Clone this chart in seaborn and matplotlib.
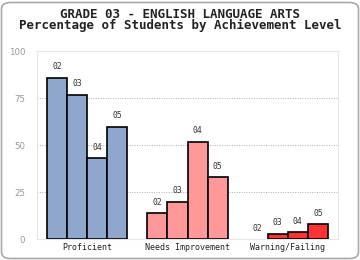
import matplotlib
matplotlib.use("Agg")
import matplotlib.pyplot as plt
import seaborn as sns
import pandas as pd
from matplotlib.patches import FancyBboxPatch

title_line1 = "GRADE 03 - ENGLISH LANGUAGE ARTS"
title_line2 = "Percentage of Students by Achievement Level"
categories = ["Proficient", "Needs Improvement", "Warning/Failing"]
years = ["02", "03", "04", "05"]
proficient = [86, 77, 43, 60]
needs_improvement = [14, 20, 52, 33]
warning_failing = [0, 3, 4, 8]
colors = ["#8fa7cc", "#ff9999", "#ff3333"]
yticks = [0, 25, 50, 75, 100]

rows = []
for cat, vals in zip(categories, [proficient, needs_improvement, warning_failing]):
    for yr, v in zip(years, vals):
        rows.append({"category": cat, "year": yr, "value": v})
df = pd.DataFrame(rows)

sns.set_style("white")
fig = plt.figure(figsize=(3.6, 2.6), dpi=100)
ax = fig.add_axes([37/360, 1-239.3/260, 301/360, (239.3-51.3)/260])

sns.barplot(data=df, x="category", y="value", hue="year", order=categories,
            hue_order=years, ax=ax, width=0.8, legend=False,
            edgecolor="black", linewidth=1.2, errorbar=None)

for j, cont in enumerate(ax.containers):
    for i, bar in enumerate(cont):
        bar.set_facecolor(colors[i])
        bar.set_zorder(3)
        if bar.get_height() == 0:
            bar.set_linewidth(0)
    labels = [years[j]] * len(cont)
    ax.bar_label(cont, labels=labels, padding=4.5, fontsize=5.8,
                 family="DejaVu Sans Mono", color="#333333")

ax.set_xlim(-0.5, 2.5)
ax.set_ylim(0, 100)
ax.set_yticks(yticks)
ax.set_yticklabels([str(t) for t in yticks], fontsize=6.2, color="#999999")
ax.tick_params(axis="y", length=3.5, width=0.8, color="#999999", pad=5)
ax.tick_params(axis="x", length=0, pad=3)
for lab in ax.get_xticklabels():
    lab.set_fontsize(6)
    lab.set_family("DejaVu Sans Mono")
    lab.set_color("#222222")
ax.set_xlabel("")
ax.set_ylabel("")
for y in [25, 50, 75]:
    ax.axhline(y, color="#b0b0b0", linestyle=(0, (1, 1.5)), linewidth=0.7, zorder=1)
for s in ax.spines.values():
    s.set_color("#e6e6e6")
    s.set_linewidth(0.8)

fig.text(0.5, 1-14/260, title_line1, ha="center", va="center", fontsize=9,
         family="DejaVu Sans Mono", weight="bold", color="#222222")
fig.text(0.5, 1-25.5/260, title_line2, ha="center", va="center", fontsize=9,
         family="DejaVu Sans Mono", weight="bold", color="#222222")

border = FancyBboxPatch((1.5/360, 1.5/260), 357/360, 256/260,
                        boxstyle="round,pad=0,rounding_size=0.025",
                        transform=fig.transFigure, fill=False,
                        edgecolor="#aaaaaa", linewidth=1.2)
fig.patches.append(border)

fig.savefig("out.png", dpi=100)
